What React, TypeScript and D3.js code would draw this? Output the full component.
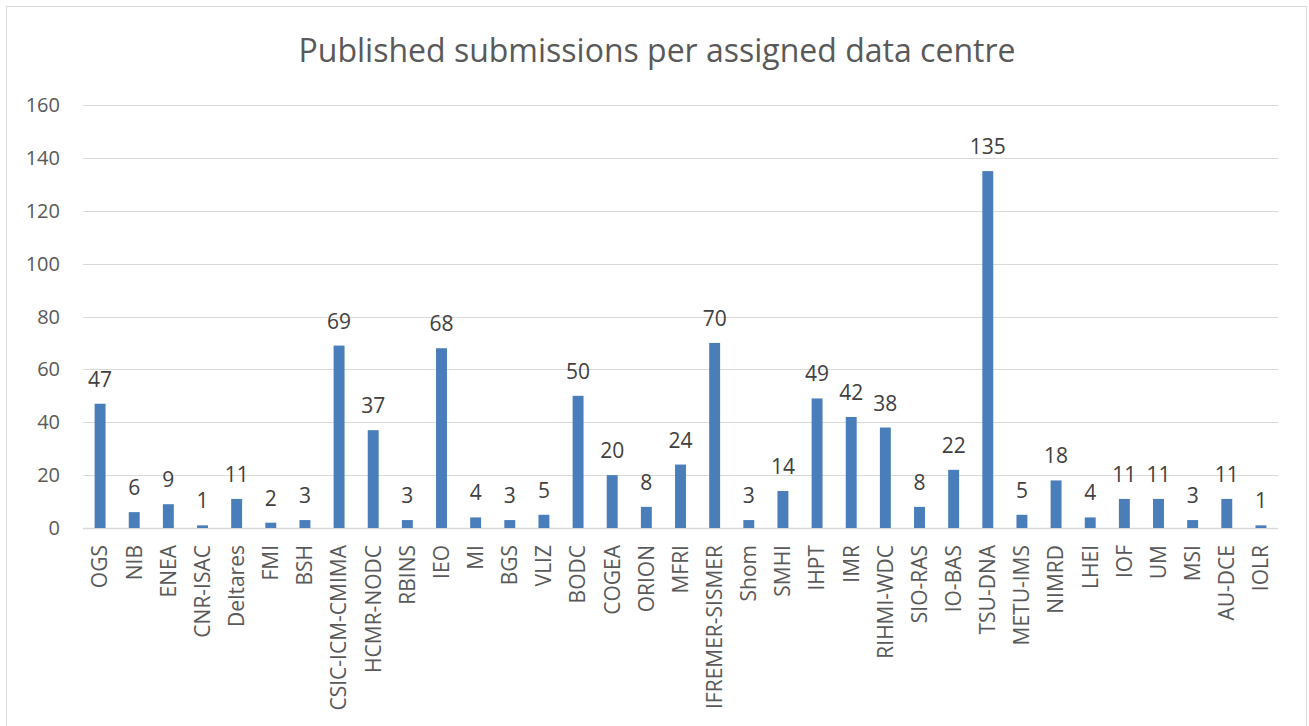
import React from "react";
import * as d3 from "d3";

const categories = ["OGS","NIB","ENEA","CNR-ISAC","Deltares","FMI","BSH","CSIC-ICM-CMIMA","HCMR-NODC","RBINS","IEO","MI","BGS","VLIZ","BODC","COGEA","ORION","MFRI","IFREMER-SISMER","Shom","SMHI","IHPT","IMR","RIHMI-WDC","SIO-RAS","IO-BAS","TSU-DNA","METU-IMS","NIMRD","LHEI","IOF","UM","MSI","AU-DCE","IOLR"];
const values = [47,6,9,1,11,2,3,69,37,3,68,4,3,5,50,20,8,24,70,3,14,49,42,38,8,22,135,5,18,4,11,11,3,11,1];
const yTicks = [0,20,40,60,80,100,120,140,160];
const title = "Published submissions per assigned data centre";

const W = 1309, H = 726;
const left = 83, right = 1278, top = 105, bottom = 528;
const FONT = "'Open Sans', 'Noto Sans', sans-serif";

export default function App() {
  const x = d3.scaleBand<string>().domain(categories).range([left, right]).paddingInner(0.68).paddingOuter(0.34);
  const y = d3.scaleLinear().domain([0, 160]).range([bottom, top]);
  return (
    <div style={{ position: "absolute", left: 0, top: 0 }}>
      <svg width={W} height={H} style={{ display: "block", fontFamily: FONT }}>
        <rect x={0} y={0} width={W} height={H} fill="#fff" />
        <rect x={6.5} y={6.5} width={1300} height={760} fill="none" stroke="#d9d9d9" strokeWidth={1} />
        <text x={657} y={62} textAnchor="middle" fontSize={32} fill="#595959">{title}</text>
        {yTicks.map((t) => (
          <g key={t}>
            <line x1={left} x2={right} y1={Math.round(y(t)) + 0.5} y2={Math.round(y(t)) + 0.5} stroke="#d9d9d9" strokeWidth={t === 0 ? 1.5 : 1} />
            <text x={60} y={y(t)} dy="0.35em" textAnchor="end" fontSize={20} fill="#595959">{t}</text>
          </g>
        ))}
        {categories.map((c, i) => {
          const bx = x(c)!;
          const bw = x.bandwidth();
          const cx = bx + bw / 2;
          return (
            <g key={c}>
              <rect x={bx} y={y(values[i])} width={bw} height={bottom - y(values[i])} fill="#4a7ebb" />
              <text x={cx} y={y(values[i]) - 17} textAnchor="middle" fontSize={21} fill="#404040">{values[i]}</text>
              <text transform={`translate(${cx},${bottom + 17}) rotate(-90)`} dy="0.35em" textAnchor="end" fontSize={21} fill="#595959">{c}</text>
            </g>
          );
        })}
      </svg>
    </div>
  );
}
